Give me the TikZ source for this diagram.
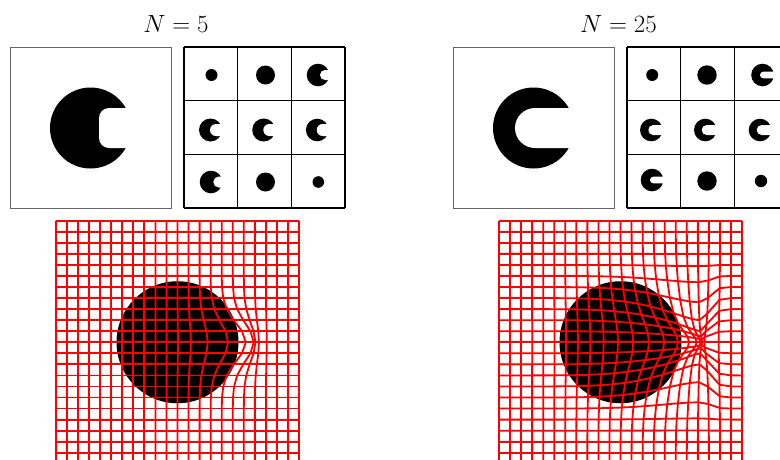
\documentclass[tikz,border=0pt]{standalone}
\usepackage{amsmath}
\usepackage{tikz}
\tikzset{
  imgframe/.style={draw=black!60,line width=0.8pt},
  cellframe/.style={draw=black,line width=1.1pt},
  warpline/.style={draw=red,line width=1.8pt,line join=round},
  titlenode/.style={font=\fontsize{26}{30}\selectfont,anchor=base,inner sep=0pt}
}
% disk with a notch cut out of its right side:
% centre x, centre y, radius, left end of notch, half height, corner radius
\newcommand{\notchdisk}[6]{%
  \fill[black] (#1,#2) circle [radius=#3];
  \begin{scope}
    \clip (#1,#2) circle [radius=#3+1];
    \fill[white,rounded corners=#6pt] (#4,#2-#5) rectangle (#1+#3+#6+10,#2+#5);
  \end{scope}}
% warped 23x23 grid over a disk, centred at (#1,#2)
\newcommand{\warpgrid}[2]{%
  \fill[black] (#1,#2) circle [radius=61];
  \foreach \k in {-11,...,11}{
    \draw[warpline] plot[domain=-11:11,samples=23]
      ({#1+11.05*wx(\x,\k)},{#2+11.05*wy(\x,\k)});
    \draw[warpline] plot[domain=-11:11,samples=23]
      ({#1+11.05*wx(\k,\x)},{#2+11.05*wy(\k,\x)});
  }}

\begin{document}
\begin{tikzpicture}[x=1pt,y=-1pt,
  declare function={
    wsq(\x)=\x*\x;
    wsig(\x)=ifthenelse(\x<\wP,\wL,\wR);
    wt(\x,\y)=\wA*exp(-wsq((\x-\wP)/wsig(\x))-wsq(\y/\wV));
    wty(\x,\y)=\wA*exp(-wsq((\x-\wP)/wsig(\x))-wsq(wsq(\y/\wW)));
    wb(\x,\y)=\wC*exp(-wsq((\x-\wM)/\wS)-wsq(\y/\wU));
    wx(\x,\y)=\x+wt(\x,\y)*(\wP-\x)+wb(\x,\y);
    wy(\x,\y)=\y*(1-\wB*wty(\x,\y));
  }]
  \useasboundingbox (0,0) rectangle (780,459);

  % titles
  \node[titlenode] (ttlA) at (176,32.5) {$N=5$};
  \node[titlenode] (ttlB) at (618.5,32.5) {$N=25$};

  % left: template images
  \draw[imgframe] (10,47) rectangle (171,208);
  \notchdisk{90.5}{128}{40.5}{99}{20}{10}
  \foreach \k in {0,1,2,3}{
    \draw[cellframe] (184+53.667*\k,47) -- (184+53.667*\k,208);
    \draw[cellframe] (184,47+53.667*\k) -- (345,47+53.667*\k);
  }
  \fill (211.5,75) circle [radius=6];
  \fill (265.5,75) circle [radius=9.5];
  \notchdisk{318}{75}{11.3}{320}{5}{5}
  \notchdisk{210.5}{130}{11.5}{210}{6}{6}
  \notchdisk{263.7}{130}{11.5}{263.3}{6}{6}
  \notchdisk{317.2}{130}{11.3}{316.7}{6}{6}
  \notchdisk{211}{182}{11.3}{213.3}{5.5}{5.5}
  \fill (265.5,182) circle [radius=9.5];
  \fill (318.3,182) circle [radius=5.8];

  % right: template images
  \draw[imgframe] (453,47) rectangle (614,208);
  \notchdisk{533.5}{128}{40.5}{515}{20}{20}
  \foreach \k in {0,1,2,3}{
    \draw[cellframe] (627+53.667*\k,47) -- (627+53.667*\k,208);
    \draw[cellframe] (627,47+53.667*\k) -- (788,47+53.667*\k);
  }
  \fill (652.2,75) circle [radius=6];
  \fill (707,75) circle [radius=9.7];
  \notchdisk{762.5}{75}{11.3}{760}{3.3}{3.3}
  \notchdisk{651.3}{130}{11.3}{648.3}{5}{5}
  \notchdisk{705.3}{130}{11.3}{701.7}{5}{5}
  \notchdisk{760}{130}{11.3}{756.7}{5}{5}
  \notchdisk{652}{180}{11.3}{650}{3.3}{3.3}
  \fill (707,181) circle [radius=9.7];
  \fill (761,181) circle [radius=6.2];

  % deformation grids
  \begin{scope}
    \def\wA{0}\def\wP{7.4}\def\wL{4}\def\wR{1}\def\wV{3}\def\wW{3}\def\wB{0}
    \def\wC{2.2}\def\wM{4.2}\def\wS{2.1}\def\wU{2.4}
    \warpgrid{177.5}{342.25}
  \end{scope}
  \begin{scope}
    \def\wA{0.95}\def\wP{7.4}\def\wL{5.5}\def\wR{1}\def\wV{4}\def\wW{5}\def\wB{0.8}
    \def\wC{0}\def\wM{0}\def\wS{1}\def\wU{1}
    \warpgrid{620.5}{342.25}
  \end{scope}
\end{tikzpicture}
\end{document}
